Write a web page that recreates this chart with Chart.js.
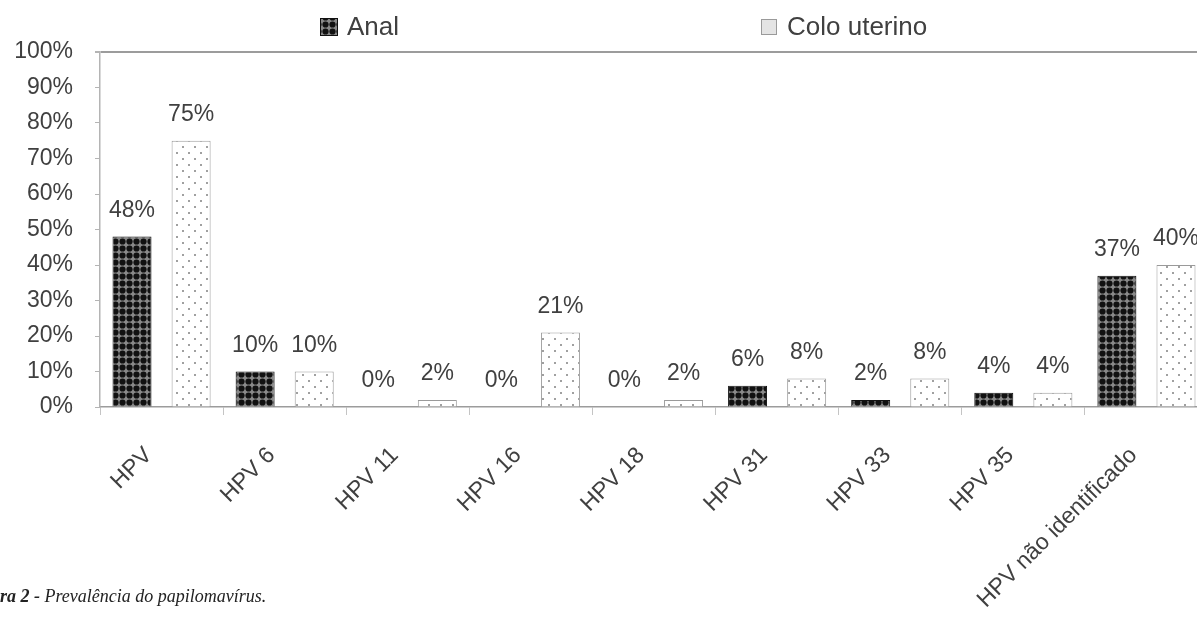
<!DOCTYPE html>
<html>
<head>
<meta charset="utf-8">
<script src="https://cdn.jsdelivr.net/npm/chart.js@4"></script>
<style>
  html, body { margin: 0; padding: 0; background: #fff; overflow: hidden; }
  #wrap { position: absolute; left: 0; top: 0; width: 1215px; height: 620px; }
  #caption {
    position: absolute; left: -36px; top: 586px; white-space: nowrap;
    font-family: "Liberation Serif", "Times New Roman", serif; font-style: italic;
    font-size: 18px; color: #222;
  }
  #caption b { font-weight: bold; }
</style>
</head>
<body>
<div id="wrap"><canvas id="myChart"></canvas></div>
<div id="caption"><b>Figura 2 -</b> Prevalência do papilomavírus.</div>
<script>
var categories = ["HPV", "HPV 6", "HPV 11", "HPV 16", "HPV 18", "HPV 31", "HPV 33", "HPV 35", "HPV não identificado"];
var seriesNames = ["Anal", "Colo uterino"];
var analValues = [48, 10, 0, 0, 0, 6, 2, 4, 37];
var coloValues = [75, 10, 2, 21, 2, 8, 8, 4, 40];
var yMax = 100;
var yStep = 10;

var textColor = "#404040";
var sans = "'Liberation Sans', Arial, sans-serif";

// dark fill: black discs on grey
function darkPattern() {
  var c = document.createElement("canvas");
  c.width = 7; c.height = 7;
  var g = c.getContext("2d");
  g.fillStyle = "#8a8a8a";
  g.fillRect(0, 0, 7, 7);
  g.fillStyle = "#111";
  g.beginPath();
  g.arc(3.5, 3.5, 3.1, 0, Math.PI * 2);
  g.fill();
  return g.createPattern(c, "repeat");
}

// light fill: sparse grey dots on white
function lightPattern() {
  var c = document.createElement("canvas");
  c.width = 12; c.height = 12;
  var g = c.getContext("2d");
  g.fillStyle = "#fff";
  g.fillRect(0, 0, 12, 12);
  g.fillStyle = "#a0a0a0";
  g.fillRect(2, 2, 2, 2);
  g.fillRect(8, 8, 2, 2);
  return g.createPattern(c, "repeat");
}

var analFill = darkPattern();
var coloFill = lightPattern();

// value labels above every bar
var valueLabels = {
  id: "valueLabels",
  afterDatasetsDraw: function(chart) {
    var ctx = chart.ctx;
    ctx.save();
    ctx.font = "23px " + sans;
    ctx.fillStyle = textColor;
    ctx.textAlign = "center";
    ctx.textBaseline = "middle";
    chart.data.datasets.forEach(function(ds, i) {
      chart.getDatasetMeta(i).data.forEach(function(bar, j) {
        ctx.fillText(ds.data[j] + "%", bar.x, bar.y - 26);
      });
    });
    ctx.restore();
  }
};

// legend row across the top
var topLegend = {
  id: "topLegend",
  afterDraw: function(chart) {
    var ctx = chart.ctx;
    var items = [
      { x: 320, box: 18, gap: 9, fill: analFill, stroke: "#111" },
      { x: 761, box: 16, gap: 10, fill: "#e4e4e4", stroke: "#9a9a9a" }
    ];
    var cy = 27;
    ctx.save();
    ctx.font = "26px " + sans;
    ctx.textBaseline = "middle";
    chart.data.datasets.forEach(function(ds, i) {
      var it = items[i];
      ctx.fillStyle = it.fill;
      ctx.fillRect(it.x, cy - it.box / 2, it.box, it.box);
      ctx.strokeStyle = it.stroke;
      ctx.lineWidth = 1;
      ctx.strokeRect(it.x + 0.5, cy - it.box / 2 + 0.5, it.box - 1, it.box - 1);
      ctx.fillStyle = textColor;
      ctx.fillText(ds.label, it.x + it.box + it.gap, cy + 1);
    });
    ctx.restore();
  }
};

var ctx = document.getElementById("myChart");

var chart = new Chart(ctx, {
  type: "bar",
  data: {
    labels: categories,
    datasets: [
      {
        label: seriesNames[0],
        data: analValues,
        backgroundColor: analFill,
        borderColor: "#111",
        borderWidth: 1,
        categoryPercentage: 0.96,
        barPercentage: 0.66
      },
      {
        label: seriesNames[1],
        data: coloValues,
        backgroundColor: coloFill,
        borderColor: "#9a9a9a",
        borderWidth: 1,
        categoryPercentage: 0.96,
        barPercentage: 0.66
      }
    ]
  },
  options: {
    responsive: true,
    maintainAspectRatio: false,
    animation: false,
    layout: { padding: { top: 52, right: 7, left: 0, bottom: 0 } },
    plugins: {
      legend: { display: false },
      tooltip: { enabled: false }
    },
    scales: {
      x: {
        grid: {
          offset: true,
          drawOnChartArea: false,
          tickLength: 8,
          color: "#c4c4c4"
        },
        border: { color: "#9c9c9c", width: 1.5 },
        ticks: {
          minRotation: 45,
          maxRotation: 45,
          padding: 27,
          labelOffset: -13,
          color: textColor,
          font: { family: sans, size: 23 }
        },
        afterFit: function(scale) { scale.height = 213; }
      },
      y: {
        min: 0,
        max: yMax,
        grid: {
          color: function(c) { return c.tick && c.tick.value === yMax ? "#9c9c9c" : "rgba(0,0,0,0)"; },
          lineWidth: function(c) { return c.tick && c.tick.value === yMax ? 2 : 1; },
          tickColor: "#b4b4b4",
          tickLength: 5
        },
        border: { color: "#b4b4b4", width: 1.5 },
        ticks: {
          stepSize: yStep,
          padding: 22,
          color: textColor,
          font: { family: sans, size: 23 },
          callback: function(v) { return v + "%"; }
        },
        afterFit: function(scale) { scale.width = 100; }
      }
    }
  },
  plugins: [valueLabels, topLegend]
});
</script>
</body>
</html>
